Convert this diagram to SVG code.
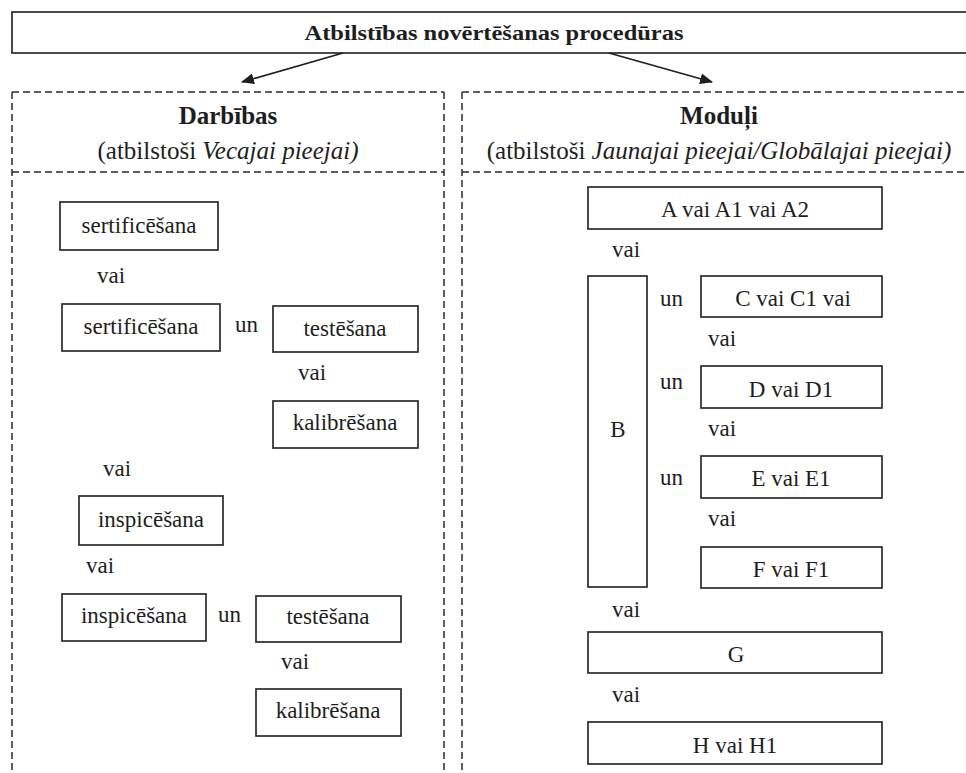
<svg xmlns="http://www.w3.org/2000/svg" width="966" height="773" viewBox="0 0 966 773">
<defs>
<style>
.box{fill:#fff;stroke:#2b2b2b;stroke-width:1.7}
.dash{fill:none;stroke:#2b2b2b;stroke-width:1.5;stroke-dasharray:7 4}
.t{font-family:"Liberation Serif","Times New Roman",serif;font-size:23px;fill:#1e1e1e}
.c{text-anchor:middle}
.h{font-family:"Liberation Serif","Times New Roman",serif;font-size:25px;fill:#1e1e1e;text-anchor:middle}
.b{font-weight:bold}
.conn{stroke:#1e1e1e;stroke-width:1.7;fill:none}
</style>
<marker id="ah" viewBox="0 0 12 10" refX="11" refY="5" markerWidth="13" markerHeight="11" markerUnits="userSpaceOnUse" orient="auto">
<path d="M0,0 L12,5 L0,10 z" fill="#1e1e1e"/>
</marker>
</defs>
<rect width="966" height="773" fill="#fff"/>

<g id="title">
<rect class="box" x="12" y="12" width="960" height="41"/>
<text class="h b" x="494" y="40" textLength="379" lengthAdjust="spacingAndGlyphs" style="font-size:22px">Atbilstības novērtēšanas procedūras</text>
</g>

<g id="connectors">
<line class="conn" x1="343" y1="53" x2="242" y2="82" marker-end="url(#ah)"/>
<line class="conn" x1="609" y1="53" x2="712" y2="82" marker-end="url(#ah)"/>
</g>

<g id="panel-left">
<path class="dash" d="M12,92 H444 M12,172 H444 M12,92 V773 M444,92 V773"/>
<text class="h b" x="228" y="124">Darbības</text>
<text class="h" x="228" y="159">(atbilstoši <tspan font-style="italic">Vecajai pieejai)</tspan></text>
</g>

<g id="panel-right">
<path class="dash" d="M462,92 H966 M462,172 H966 M462,92 V773"/>
<text class="h b" x="719" y="124">Moduļi</text>
<text class="h" x="719" y="159">(atbilstoši <tspan font-style="italic">Jaunajai pieejai/Globālajai pieejai)</tspan></text>
</g>

<g id="sert1"><rect class="box" x="60" y="202" width="158" height="48"/><text class="t c" x="139" y="233">sertificēšana</text></g>
<text class="t" x="97" y="283">vai</text>
<g id="sert2"><rect class="box" x="62" y="304" width="158" height="47"/><text class="t c" x="141" y="334">sertificēšana</text></g>
<text class="t" x="235" y="332">un</text>
<g id="test1"><rect class="box" x="273" y="306" width="145" height="46"/><text class="t c" x="345" y="336">testēšana</text></g>
<text class="t" x="298" y="380">vai</text>
<g id="kal1"><rect class="box" x="273" y="401" width="145" height="47"/><text class="t c" x="345" y="430">kalibrēšana</text></g>
<text class="t" x="103" y="476">vai</text>
<g id="insp1"><rect class="box" x="79" y="496" width="144" height="49"/><text class="t c" x="151" y="527">inspicēšana</text></g>
<text class="t" x="86" y="573">vai</text>
<g id="insp2"><rect class="box" x="62" y="594" width="144" height="47"/><text class="t c" x="134" y="623">inspicēšana</text></g>
<text class="t" x="218" y="622">un</text>
<g id="test2"><rect class="box" x="256" y="596" width="145" height="46"/><text class="t c" x="328" y="624">testēšana</text></g>
<text class="t" x="281" y="669">vai</text>
<g id="kal2"><rect class="box" x="256" y="689" width="145" height="47"/><text class="t c" x="328" y="718">kalibrēšana</text></g>

<g id="modA"><rect class="box" x="588" y="187" width="294" height="42"/><text class="t c" x="735" y="217">A vai A1 vai A2</text></g>
<text class="t" x="612" y="257">vai</text>
<g id="modB"><rect class="box" x="588" y="276" width="59" height="311"/><text class="t c" x="618" y="437">B</text></g>
<text class="t" x="660" y="306">un</text>
<g id="modC"><rect class="box" x="701" y="276" width="181" height="41"/><text class="t c" x="793" y="306">C vai C1 vai</text></g>
<text class="t" x="708" y="346">vai</text>
<text class="t" x="660" y="389">un</text>
<g id="modD"><rect class="box" x="701" y="366" width="181" height="42"/><text class="t c" x="791" y="397">D vai D1</text></g>
<text class="t" x="708" y="436">vai</text>
<text class="t" x="660" y="485">un</text>
<g id="modE"><rect class="box" x="701" y="456" width="181" height="42"/><text class="t c" x="791" y="486">E vai E1</text></g>
<text class="t" x="708" y="526">vai</text>
<g id="modF"><rect class="box" x="701" y="547" width="181" height="41"/><text class="t c" x="791" y="577">F vai F1</text></g>
<text class="t" x="612" y="617">vai</text>
<g id="modG"><rect class="box" x="588" y="632" width="294" height="41"/><text class="t c" x="736" y="662">G</text></g>
<text class="t" x="612" y="702">vai</text>
<g id="modH"><rect class="box" x="588" y="722" width="294" height="42"/><text class="t c" x="735" y="753">H vai H1</text></g>
</svg>
